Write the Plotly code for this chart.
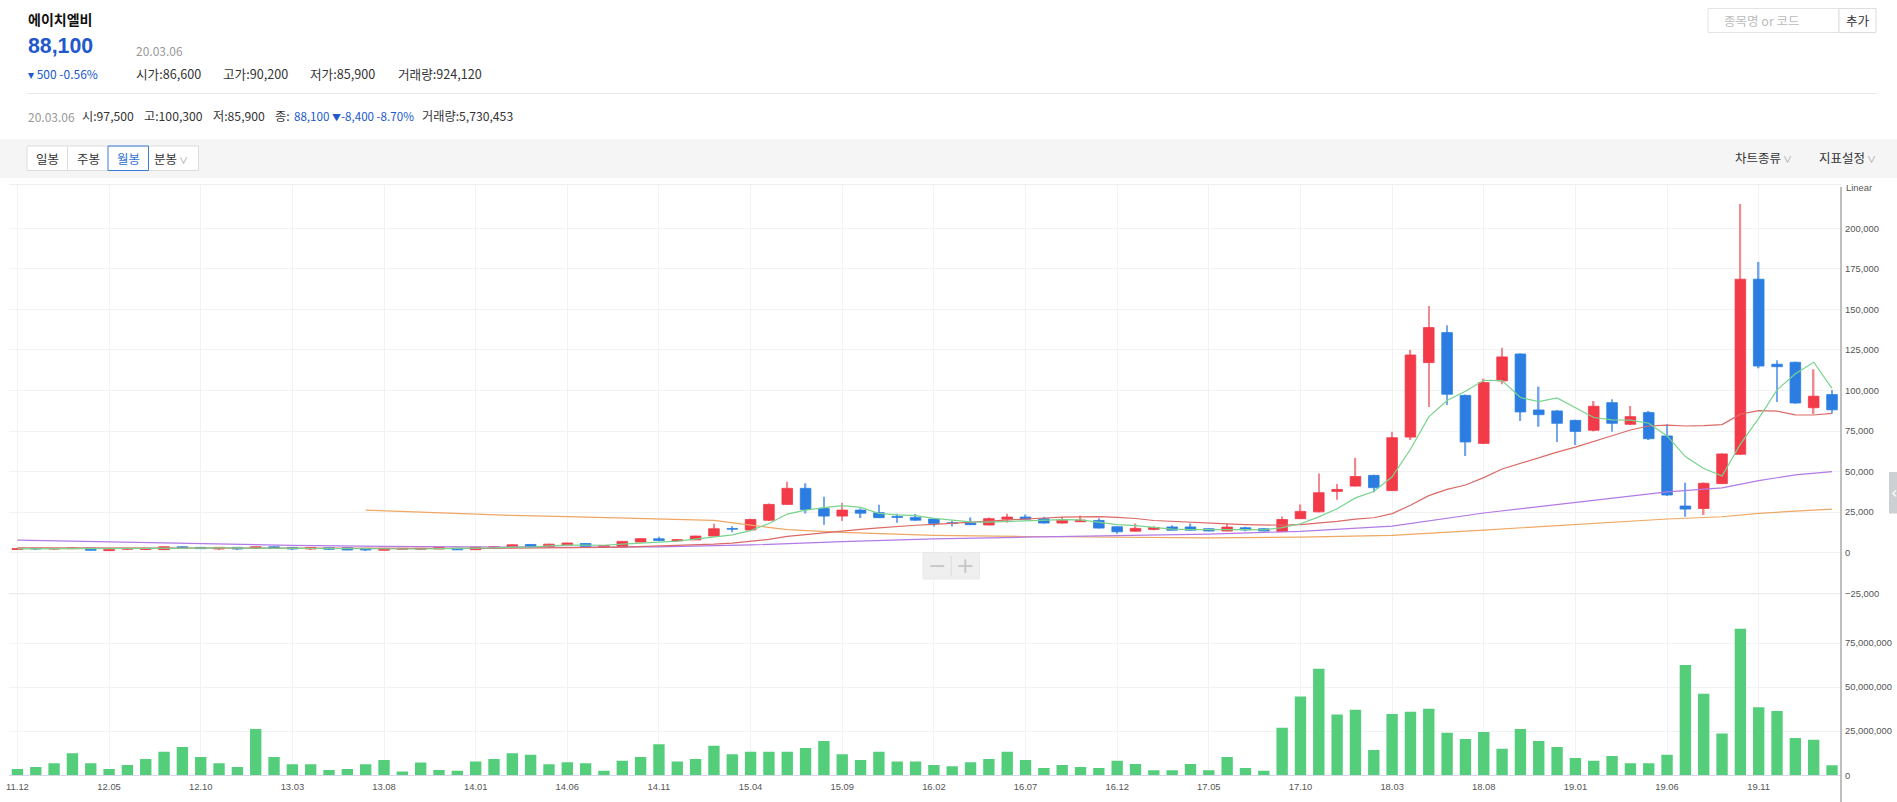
import pandas as pd
import plotly.graph_objects as go

# ---------------- data ----------------
months = [p.strftime("%y.%m") for p in pd.period_range("2011-12", "2020-03", freq="M")]
tick_months = months[::5]

opens = [2000, 2600, 2300, 2500, 2900, 1300, 2100, 2000, 1900, 3700,
         3300, 2300, 3300, 2700, 3700, 3300, 2300, 3100, 3100, 2700,
         1500, 2100, 2100, 2300, 2800, 1900, 3400, 3300, 5100, 3700,
         4800, 5700, 3700, 3500, 6600, 8600, 7300, 7900, 10300, 14900,
         14000, 20000, 29800, 39700, 27300, 22600, 26300, 24700, 22400, 21800,
         20800, 18500, 18300, 17100, 20700, 22000, 21000, 18300, 19100, 19900,
         16000, 13300, 14400, 15900, 15900, 14800, 13400, 15400, 14800, 13000,
         21000, 25200, 37800, 41100, 47700, 38300, 71300, 117200, 135700, 97000,
         67400, 105900, 122500, 88000, 87400, 81600, 75500, 92500, 79200, 86400,
         72000, 28800, 27300, 42600, 60700, 168600, 116200, 117400, 89400, 97500]
highs = [2800, 2700, 2700, 3100, 3000, 2300, 2900, 2800, 3800, 3900,
         3400, 3400, 3400, 3800, 3900, 3400, 3400, 3200, 3200, 2800,
         2800, 2800, 2800, 3600, 2900, 3600, 3800, 5100, 5300, 5500,
         6200, 5900, 4700, 7200, 8900, 9900, 8300, 10500, 17900, 16400,
         21000, 30400, 43800, 42800, 34500, 30800, 27300, 29600, 24100, 23900,
         21000, 19700, 21800, 21800, 24100, 23500, 22200, 22200, 23000, 21200,
         16200, 18100, 16400, 17000, 18100, 15000, 17900, 16000, 15000, 22400,
         29800, 48800, 42300, 58500, 48000, 74600, 125000, 152100, 140200, 97500,
         107300, 126400, 122900, 102400, 88000, 82000, 93500, 94600, 90500, 87400,
         79200, 43200, 43300, 61200, 214900, 179300, 118600, 117800, 113100, 100300]
lows = [1900, 2100, 2200, 2400, 1400, 1200, 2000, 1900, 1800, 2600,
        2400, 2200, 2200, 2600, 2600, 2200, 2200, 2000, 1600, 1600,
        1400, 2000, 2000, 2200, 1700, 1800, 3300, 3200, 3500, 3600,
        4700, 3600, 3600, 3400, 6500, 7100, 7200, 7800, 10000, 12700,
        13800, 19500, 29500, 24200, 17200, 19500, 21400, 21400, 18500, 19700,
        16100, 16100, 17100, 17000, 18500, 20500, 18000, 18100, 18900, 15000,
        11700, 13100, 13900, 13700, 13700, 13200, 13300, 13300, 13200, 12900,
        20800, 25000, 32700, 40800, 37300, 38000, 69500, 89800, 91100, 59600,
        67000, 103800, 81200, 77700, 68300, 66400, 74800, 74600, 78800, 69500,
        35000, 22200, 23200, 42300, 60300, 113700, 92900, 91800, 85500, 85900]
closes = [2600, 2300, 2500, 2900, 1500, 2200, 2700, 2700, 3700, 2700,
          2500, 3300, 2300, 3700, 2700, 2300, 3300, 2100, 1700, 1700,
          2700, 2700, 2700, 3200, 1800, 3500, 3700, 4900, 3600, 5300,
          6000, 3700, 4500, 7000, 8700, 7600, 8100, 10300, 14800, 14500,
          20500, 29800, 39700, 26700, 22600, 26300, 24400, 21600, 21800, 20100,
          18100, 18000, 17300, 21000, 22000, 20700, 18300, 20100, 20100, 15200,
          12900, 15000, 15600, 13900, 13900, 13400, 15800, 14100, 13400, 20500,
          25500, 37000, 39000, 47000, 40100, 70900, 121900, 138800, 97700, 68300,
          104900, 120700, 86800, 85100, 79800, 74800, 90300, 79800, 83900, 70300,
          35600, 26900, 42800, 60900, 168600, 115100, 114700, 92300, 96500, 88100]
volumes = [3600000, 4700000, 6800000, 12500000, 6800000, 3600000, 5900000, 9300000, 13400000, 16100000,
           10400000, 6800000, 4700000, 26300000, 10400000, 6250000, 6250000, 3000000, 3600000, 6250000,
           8700000, 2100000, 7200000, 3000000, 2650000, 7800000, 9300000, 12500000, 11600000, 6250000,
           7400000, 6800000, 2650000, 8300000, 10400000, 17600000, 7800000, 9300000, 16700000, 11900000,
           13400000, 13400000, 13400000, 15500000, 19500000, 11900000, 8700000, 13400000, 7800000, 7800000,
           5900000, 5200000, 7400000, 9300000, 13400000, 8700000, 4200000, 5900000, 4700000, 4200000,
           8300000, 6400000, 2800000, 2800000, 6400000, 2800000, 10400000, 4200000, 2650000, 26900000,
           44700000, 60400000, 34500000, 37100000, 14400000, 34800000, 36000000, 37700000, 24100000, 20600000,
           24600000, 15000000, 26300000, 19500000, 16100000, 9850000, 8300000, 11000000, 6800000, 6800000,
           11600000, 62500000, 46200000, 23700000, 83100000, 38600000, 36400000, 21200000, 20100000, 5730453]

ma5_head_idx = [0, 2]
ma5_head_vals = [2400, 2450]
ma20_head_idx = [0, 6, 12, 18]
ma20_head_vals = [3000, 2850, 2700, 2600]
ma60_idx = [0, 5, 10, 15, 20, 25, 30, 35, 40, 45, 50, 55, 60, 65, 70, 75, 80, 85, 90, 93, 95, 97, 99]
ma60_vals = [7800, 6700, 5600, 4600, 3900, 3500, 3400, 3600, 4800, 6800, 8600, 9600, 10400, 11500,
             13200, 16400, 24500, 30800, 37500, 40000, 44500, 48000, 50000]
ma120_idx = [19, 23, 27, 30, 35, 38, 40, 42, 45, 48, 50, 55, 60, 65, 70, 73, 75, 80, 85, 90, 93, 95, 97, 99]
ma120_vals = [26300, 24600, 23000, 22300, 21000, 19900, 17000, 14300, 12500, 11200, 10700, 10000, 9500,
              9200, 9600, 10000, 10700, 14000, 17300, 20800, 22200, 24300, 25600, 26900]

price_ticks = list(range(-25000, 200001, 25000))
vol_ticks = [0, 25000000, 50000000, 75000000]

# ---------------- geometry helpers ----------------
W, H = 1897, 802
def px(x):
    return x / W
def py(y):
    return 1 - y / H

KR = "Noto Sans CJK KR"
AX_FONT = "Liberation Sans"
UP, DOWN = "#f23a48", "#2b7de1"
UP_W, DOWN_W = "#f08990", "#74a8ea"
BLUE_TXT = "#2159cc"

# ---------------- traces ----------------
up_mask = [c >= o for o, c in zip(opens, closes)]

def pick(vals, want_up):
    return [v for v, u in zip(vals, up_mask) if u == want_up]

fig = go.Figure()

fig.add_trace(go.Bar(x=months, y=volumes, width=0.62, marker=dict(color="#55ce7c", line=dict(width=0)),
                     xaxis="x2", yaxis="y2", hoverinfo="skip"))

for want_up, body_col, wick_col in [(True, UP, UP_W), (False, DOWN, DOWN_W)]:
    xm = pick(months, want_up)
    o = pick(opens, want_up)
    h = pick(highs, want_up)
    l = pick(lows, want_up)
    c = pick(closes, want_up)
    fig.add_trace(go.Bar(x=xm, y=[hh - ll for hh, ll in zip(h, l)], base=l, width=0.085,
                         marker=dict(color=wick_col, line=dict(width=0)), xaxis="x", yaxis="y",
                         hoverinfo="skip"))
    fig.add_trace(go.Bar(x=xm, y=[abs(cc - oo) for oo, cc in zip(o, c)], base=[min(oo, cc) for oo, cc in zip(o, c)],
                         width=0.58, marker=dict(color=body_col, line=dict(color=body_col, width=0.8)),
                         xaxis="x", yaxis="y", hoverinfo="skip"))

s_close = pd.Series(closes)
ma5_calc = s_close.rolling(5).mean()
ma20_calc = s_close.rolling(20).mean()
ma5_x = [months[i] for i in ma5_head_idx] + months[4:]
ma5_y = ma5_head_vals + list(ma5_calc[4:])
ma20_x = [months[i] for i in ma20_head_idx] + months[19:]
ma20_y = ma20_head_vals + list(ma20_calc[19:])

for xs, ys, col in [
    ([months[i] for i in ma120_idx], ma120_vals, "#efa762"),
    ([months[i] for i in ma60_idx], ma60_vals, "#b27ae6"),
    (ma20_x, ma20_y, "#db6a66"),
    (ma5_x, ma5_y, "#78d48d"),
]:
    fig.add_trace(go.Scatter(x=xs, y=ys, mode="lines", line=dict(color=col, width=1.2),
                             xaxis="x", yaxis="y", hoverinfo="skip"))

# ---------------- axes ----------------
x_dom = [px(9), px(1841)]
grid = "#f1f2f4"
tick_font = dict(family=AX_FONT, size=9.4, color="#555555")
fig.update_layout(
    width=W, height=H, margin=dict(l=0, r=0, t=0, b=0, pad=0, autoexpand=False),
    paper_bgcolor="white", plot_bgcolor="rgba(0,0,0,0)",
    showlegend=False, barmode="overlay", hovermode=False,
    xaxis=dict(domain=x_dom, anchor="y", type="category", categoryorder="array", categoryarray=months,
               range=[-0.46, 99.49], tickvals=tick_months, showticklabels=False, showgrid=True,
               gridcolor=grid, gridwidth=1, zeroline=False, showline=False, ticks="", fixedrange=True,
               automargin=False),
    yaxis=dict(domain=[py(593.3), py(184)], anchor="x", side="right", range=[-25000, 227300],
               tickvals=price_ticks, tickformat=",", showgrid=True, gridcolor=grid, gridwidth=1,
               zeroline=False, showline=False, ticks="", ticklabelstandoff=3,
               tickfont=tick_font, fixedrange=True, automargin=False),
    xaxis2=dict(domain=x_dom, anchor="y2", type="category", categoryorder="array", categoryarray=months,
                range=[-0.46, 99.49], tickvals=tick_months, ticktext=tick_months, showticklabels=True,
                tickfont=tick_font, showgrid=True, gridcolor=grid,
                gridwidth=1, zeroline=False, showline=True, linecolor="#d3d8e6", linewidth=1, ticks="",
                ticklabelstandoff=2, fixedrange=True, automargin=False),
    yaxis2=dict(domain=[py(775.3), py(594.5)], anchor="x2", side="right", range=[0, 102500000],
                tickvals=vol_ticks, tickformat=",", showgrid=True, gridcolor=grid, gridwidth=1,
                zeroline=False, showline=False, ticks="", ticklabelstandoff=3,
                tickfont=tick_font, fixedrange=True, automargin=False),
)

# ---------------- decorations ----------------
shapes = []
def rect(x0, y0, x1, y1, fill=None, line=None, lw=1, layer="above"):
    shapes.append(dict(type="rect", xref="paper", yref="paper", x0=px(x0), x1=px(x1), y0=py(y1), y1=py(y0),
                       fillcolor=fill if fill else "rgba(0,0,0,0)",
                       line=dict(color=line if line else "rgba(0,0,0,0)", width=lw if line else 0), layer=layer))
def hline(x0, x1, y, col, lw=1):
    shapes.append(dict(type="line", xref="paper", yref="paper", x0=px(x0), x1=px(x1), y0=py(y), y1=py(y),
                       line=dict(color=col, width=lw)))
def vline(x, y0, y1, col, lw=1):
    shapes.append(dict(type="line", xref="paper", yref="paper", x0=px(x), x1=px(x), y0=py(y0), y1=py(y1),
                       line=dict(color=col, width=lw)))

hline(27.5, 1876.5, 93.5, "#e6e6e6")
rect(1708, 8.5, 1839, 32.5, fill="white", line="#e4e4e4")
rect(1839, 8.5, 1876, 32.5, fill="white", line="#dddddd")
rect(0, 139, W, 178, fill="#f5f5f5", layer="below")
rect(27, 146, 198.5, 170.5, fill="white", line="#dddddd")
vline(67.5, 146, 170.5, "#dddddd")
vline(148.5, 146, 170.5, "#dddddd")
rect(108, 146, 148.5, 170.5, fill="rgba(0,0,0,0)", line="#3d7fd8")
hline(9, 1841, 184.5, "#eeeeee")
hline(9, 1841, 593.8, "#e6e6e6")
vline(1841, 187, 802, "#aaaaaa", 1.5)
rect(923, 552.5, 979.5, 579, fill="#efefef", line="#e9e9e9")
vline(951.2, 556, 576, "#dcdcdc")
rect(1889, 472, 1900, 513.5, fill="#cdd0d3")

fig.update_layout(shapes=shapes)

ann = []
def text(x, y, s, size=12, color="#333333", family=KR, xanchor="left", weight="normal"):
    ann.append(dict(xref="paper", yref="paper", x=px(x), y=py(y), text=s, showarrow=False,
                    xanchor=xanchor, yanchor="middle", align="left", borderpad=0,
                    font=dict(family=family, size=size, color=color, weight=weight)))

text(27, 19, "에이치엘비", size=14, color="#111111", weight="bold")
text(26.5, 46, "88,100", size=21.3, color=BLUE_TXT, family="Liberation Sans", weight="bold")
text(135, 50, "20.03.06", size=12, color="#999999")
text(27, 73.5, "▾ 500 -0.56%", size=12, color=BLUE_TXT)
text(135, 73.5, "시가:86,600", size=12.6)
text(222, 73.5, "고가:90,200", size=12.6)
text(308.5, 73.5, "저가:85,900", size=12.6)
text(397, 73.5, "거래량:924,120", size=12.6)

text(27, 116.5, "20.03.06", size=12, color="#999999")
text(81, 116.5, "시:97,500", size=12.2)
text(143, 116.5, "고:100,300", size=12.2)
text(211.5, 116.5, "저:85,900", size=12.2)
text(274, 116.5, "종:", size=12.2)
text(293, 116.5, "88,100 <span style='font-size:9px'>▼</span>-8,400 -8.70%", size=11.6, color=BLUE_TXT)
text(421, 116.5, "거래량:5,730,453", size=12.2)

text(1722.5, 20.5, "종목명 or 코드", size=12.5, color="#bbbbbb")
text(1857.5, 20.5, "추가", size=12.5, color="#333333", xanchor="center")

text(47.5, 158.5, "일봉", size=12.5, xanchor="center")
text(88, 158.5, "주봉", size=12.5, xanchor="center")
text(128.3, 158.5, "월봉", size=12.5, color="#2f72d6", xanchor="center")
text(152.5, 158.5, "분봉<span style='font-size:9px;color:#999999'> ∨</span>", size=12.5)

text(1734, 157.5, "차트종류<span style='font-size:9px;color:#999999'> ∨</span>", size=12.5)
text(1818, 157.5, "지표설정<span style='font-size:9px;color:#999999'> ∨</span>", size=12.5)

text(1845, 187.5, "Linear", size=9.4, color="#555555", family=AX_FONT)

text(937, 565.5, "−", size=22, color="#c6c6c6", family="DejaVu Sans", xanchor="center")
text(965, 565.5, "+", size=22, color="#c6c6c6", family="DejaVu Sans", xanchor="center")
text(1893.5, 492.5, "‹", size=16, color="#ffffff", family="DejaVu Sans", xanchor="center")

fig.update_layout(annotations=ann)

post = ("document.documentElement.style.margin='0';document.documentElement.style.padding='0';"
        "document.documentElement.style.overflow='hidden';"
        "document.body.style.margin='0';document.body.style.padding='0';document.body.style.overflow='hidden';"
        "var gd=document.querySelector('.plotly-graph-div');"
        "gd.style.position='absolute';gd.style.left='0px';gd.style.top='0px';")
fig.write_html("out.html", config={"displayModeBar": False}, post_script=post)
